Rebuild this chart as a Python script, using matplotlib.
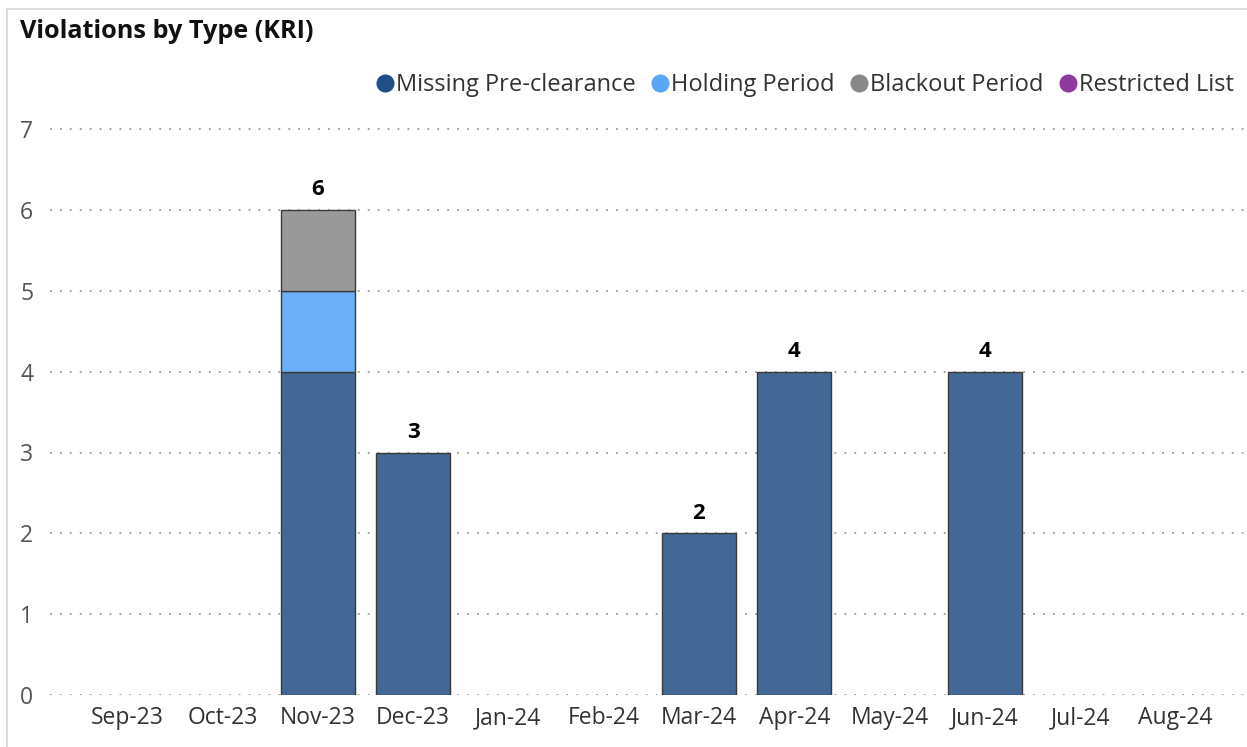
import matplotlib
matplotlib.use("Agg")
import matplotlib.pyplot as plt
from matplotlib.lines import Line2D
from matplotlib.patches import Rectangle
import numpy as np

months = ["Sep-23", "Oct-23", "Nov-23", "Dec-23", "Jan-24", "Feb-24",
          "Mar-24", "Apr-24", "May-24", "Jun-24", "Jul-24", "Aug-24"]
missing_preclearance = [0, 0, 4, 3, 0, 0, 2, 4, 0, 4, 0, 0]
holding_period = [0, 0, 1, 0, 0, 0, 0, 0, 0, 0, 0, 0]
blackout_period = [0, 0, 1, 0, 0, 0, 0, 0, 0, 0, 0, 0]
restricted_list = [0, 0, 0, 0, 0, 0, 0, 0, 0, 0, 0, 0]
yticks = [0, 1, 2, 3, 4, 5, 6, 7]

plt.rcParams["font.family"] = ["Open Sans", "DejaVu Sans"]

W, H = 1247, 747
fig = plt.figure(figsize=(W / 100, H / 100), dpi=100)
ax = fig.add_axes([50 / W, (H - 695) / H, (W - 50) / W, (695 - 113) / H])

series = [
    ("Missing Pre-clearance", missing_preclearance, "#436895", "#1f4e89"),
    ("Holding Period", holding_period, "#6aaff8", "#5ba7f7"),
    ("Blackout Period", blackout_period, "#999999", "#888888"),
    ("Restricted List", restricted_list, "#9b4fab", "#8e3a9e"),
]

x = np.arange(len(months))
bottom = np.zeros(len(months))
for name, vals, col, _ in series:
    vals = np.array(vals, dtype=float)
    mask = vals > 0
    ax.bar(x[mask], vals[mask], bottom=bottom[mask], width=0.78, color=col,
           edgecolor="#3a3a3a", linewidth=1.0, zorder=3)
    bottom += vals

for xi, tot in zip(x, bottom):
    if tot > 0:
        ax.annotate(f"{int(tot)}", (xi, tot), xytext=(0, 7),
                    textcoords="offset points", ha="center", va="bottom",
                    fontsize=16, fontweight="bold", color="black")

ax.set_xlim(-0.81, 11.75)
ax.set_ylim(0, 7.2)
ax.set_yticks(yticks)
ax.set_xticks(x)
ax.set_xticklabels(months)
ax.tick_params(axis="both", length=0, labelsize=16.5, colors="#333333")
ax.tick_params(axis="y", pad=12, labelcolor="#555555")
ax.tick_params(axis="x", pad=8)
for s in ax.spines.values():
    s.set_visible(False)
ax.grid(axis="y", color="#9a9a9a", linestyle=(0, (1, 4.5)), linewidth=1.3, zorder=0)
ax.set_axisbelow(True)

fig.text(20 / W, (H - 31) / H, "Violations by Type (KRI)", fontsize=18.2,
         fontweight="bold", va="center", ha="left", color="#111111")

handles = [Line2D([], [], marker="o", linestyle="none", markersize=12,
                  markerfacecolor=lc, markeredgecolor=lc, label=name)
           for name, _, _, lc in series]
fig.legend(handles=handles, loc="center right",
           bbox_to_anchor=(1243 / W, (H - 85) / H), ncol=4, frameon=False,
           fontsize=17, handletextpad=0.0, columnspacing=0.6,
           handlelength=0.9, borderaxespad=0, labelcolor="#333333")

fig.patches.append(Rectangle((7 / W, -0.1), 1.2, (H - 9) / H + 0.1,
                             transform=fig.transFigure, fill=False,
                             edgecolor="#d4d4d4", linewidth=1.2))

fig.savefig("out.png", dpi=100)
